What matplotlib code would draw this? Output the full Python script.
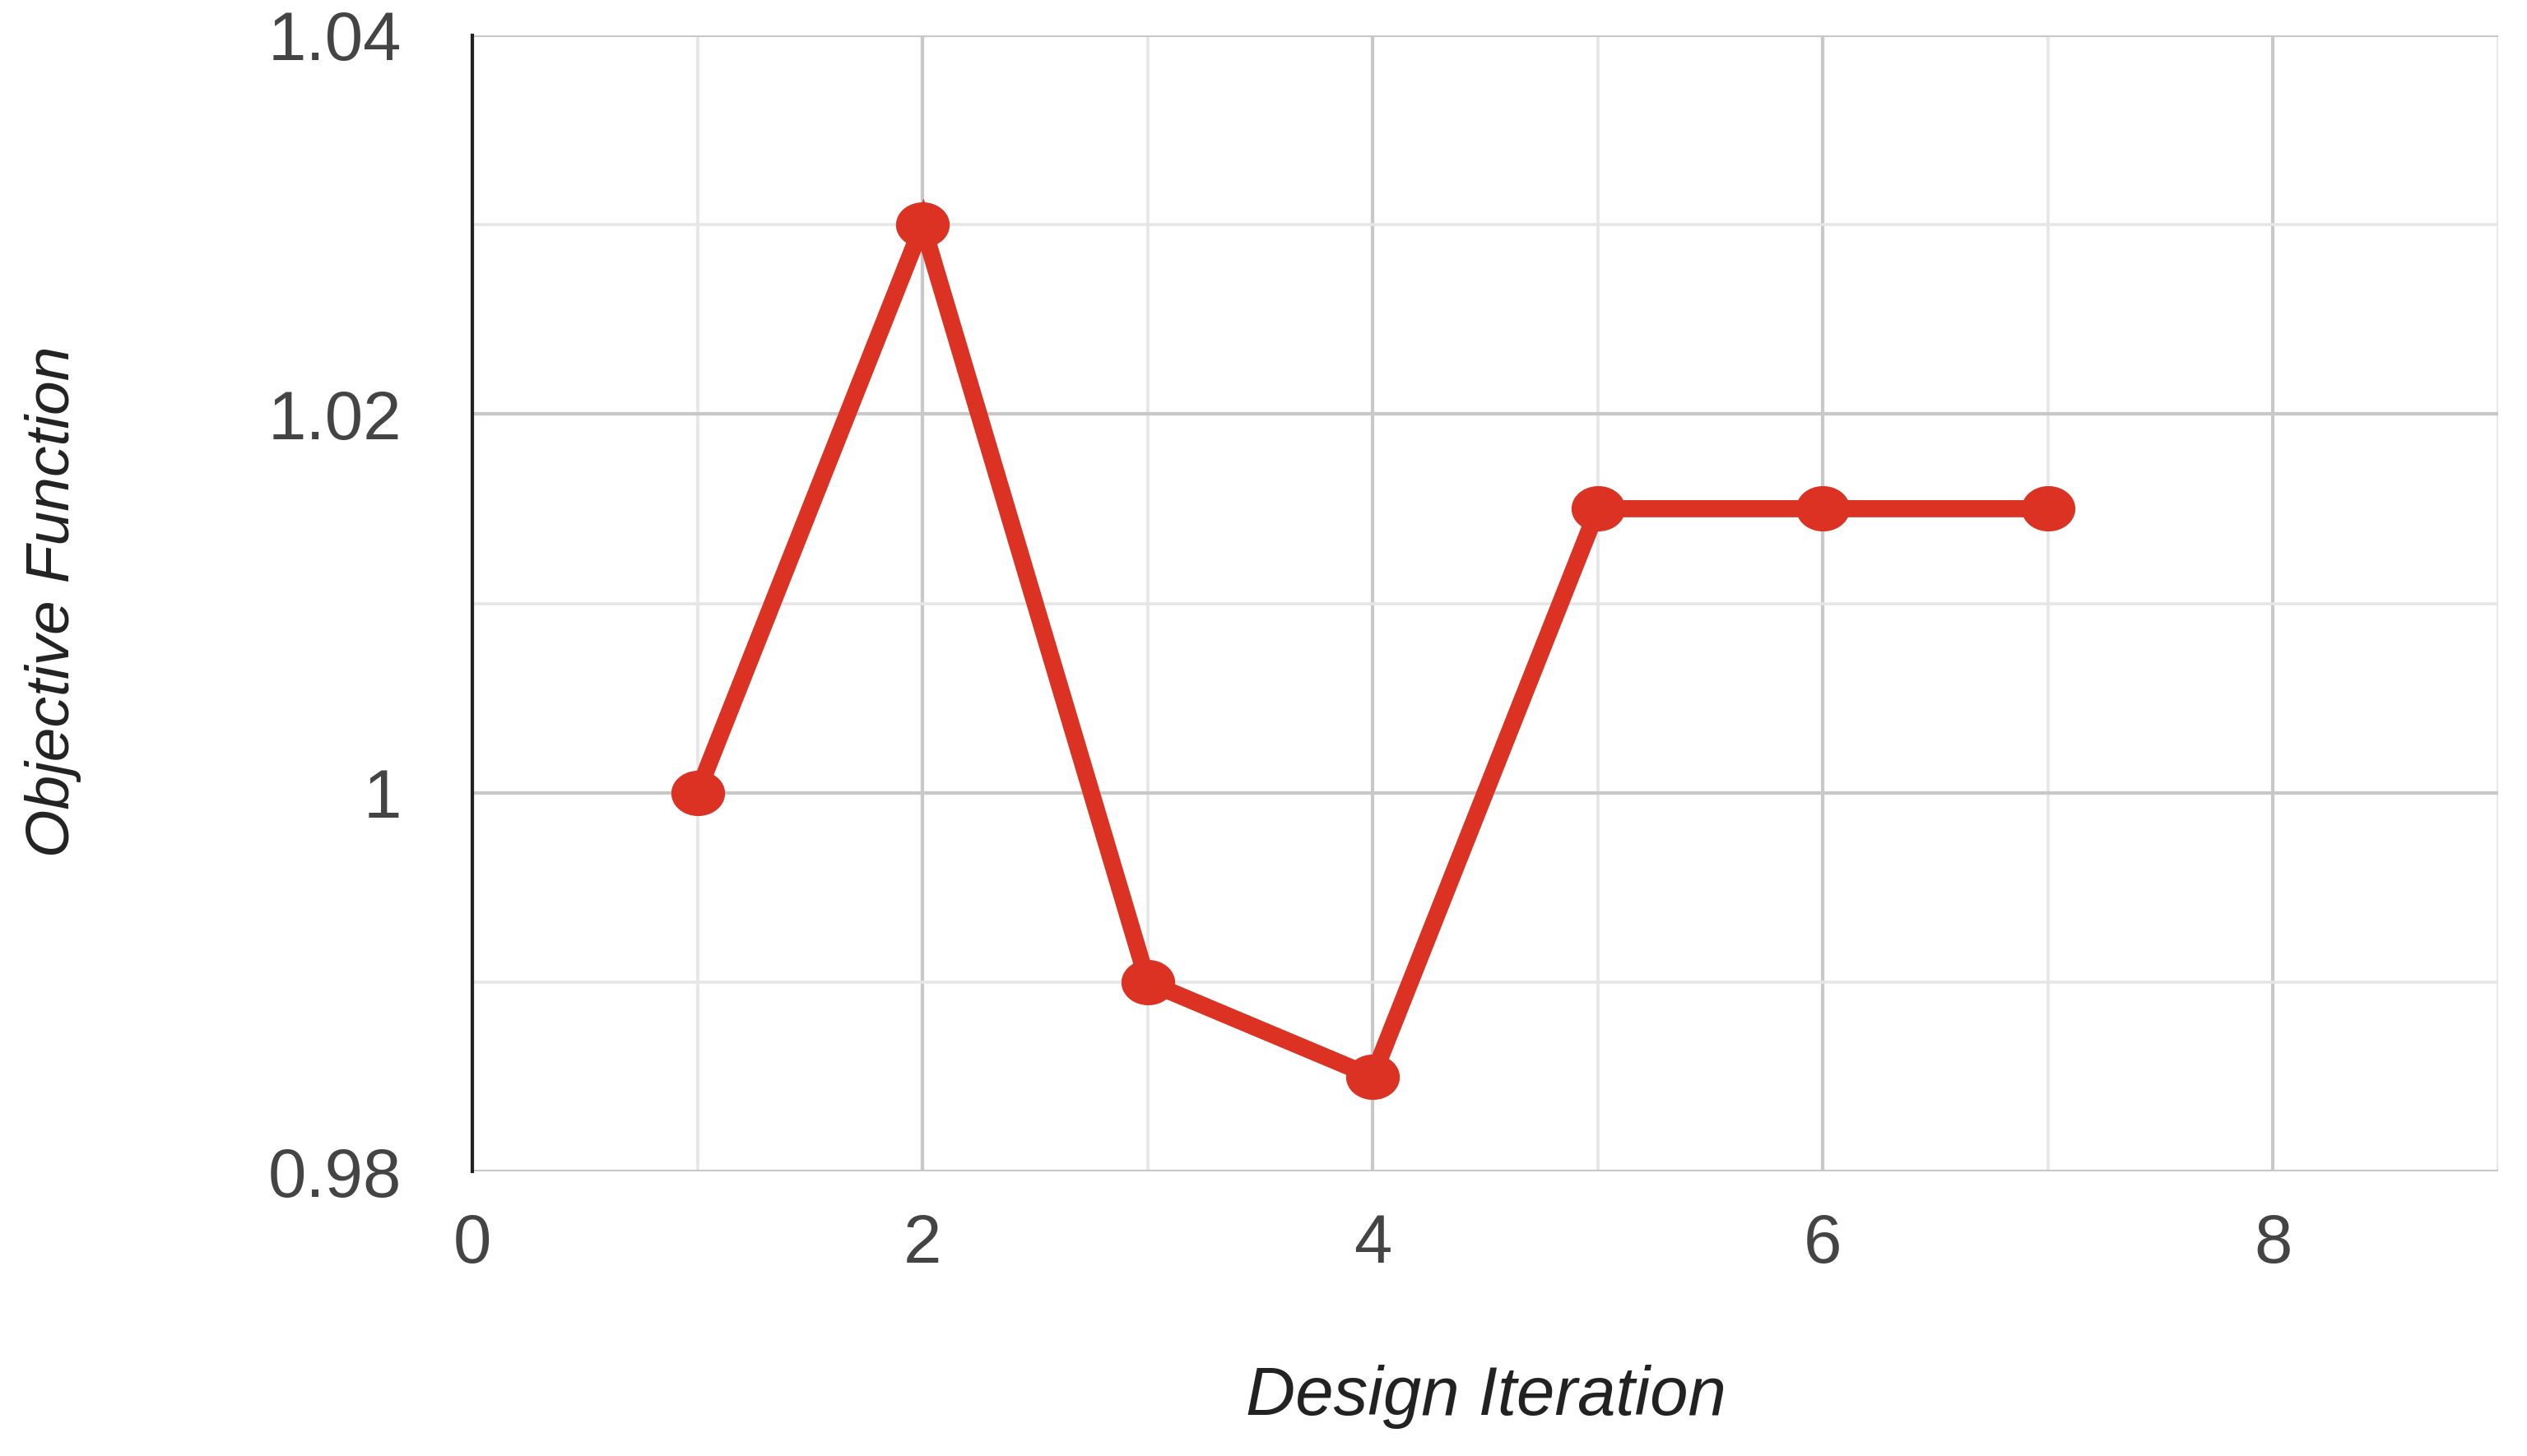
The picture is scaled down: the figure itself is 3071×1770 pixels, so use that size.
import matplotlib
matplotlib.use("Agg")
import matplotlib.pyplot as plt
from matplotlib.path import Path
import numpy as np

iterations = [1, 2, 3, 4, 5, 6, 7]
objective = [1.0, 1.03, 0.99, 0.985, 1.015, 1.015, 1.015]
x_ticks = [0, 2, 4, 6, 8]
y_ticks = [0.98, 1.0, 1.02, 1.04]
y_tick_labels = ["0.98", "1", "1.02", "1.04"]

plt.rcParams['font.family'] = ['Liberation Sans', 'DejaVu Sans']

W, H = 3071, 1770
dpi = 100
fig = plt.figure(figsize=(W / dpi, H / dpi), dpi=dpi)
ax = fig.add_axes([574 / W, 1 - 1424 / H, (3036 - 574) / W, (1424 - 43) / H])

# elliptical marker
t = np.linspace(0, 2 * np.pi, 100)
ell = Path(np.column_stack([np.cos(t), 0.84 * np.sin(t)]), closed=True)

red = "#DB3224"
ax.plot(iterations, objective, color=red, lw=15, marker=ell, markersize=46,
        markerfacecolor=red, markeredgecolor=red, solid_joinstyle='miter', zorder=3,
        clip_on=False)

ax.set_xlim(0, 9)
ax.set_ylim(0.98, 1.04)
ax.set_xticks(x_ticks)
ax.set_xticks([1, 3, 5, 7, 9], minor=True)
ax.set_yticks(y_ticks)
ax.set_yticklabels(y_tick_labels)
ax.set_yticks([0.99, 1.01, 1.03], minor=True)

ax.grid(which='major', color='#C8C8C8', lw=3, zorder=0)
ax.grid(which='minor', color='#E6E6E6', lw=2.6, zorder=0)
ax.set_axisbelow(True)

for s in ['top', 'right', 'bottom']:
    ax.spines[s].set_visible(False)
ax.spines['left'].set_color('#222222')
ax.spines['left'].set_linewidth(3)
ax.spines['left'].set_zorder(4)

ax.tick_params(which='both', length=0)
ax.tick_params(axis='y', pad=62, labelsize=60, labelcolor='#444444')
ax.tick_params(axis='x', pad=36, labelsize=60, labelcolor='#444444')

fig.text(1806 / W, 1 - 1698 / H, "Design Iteration", fontsize=60, style='italic',
         ha='center', va='center', color='#222222')
fig.text(65 / W, 1 - 731 / H, "Objective Function", fontsize=54, style='italic',
         ha='center', va='center', rotation=90, color='#222222')

fig.savefig("out.png", dpi=dpi, facecolor='white')
